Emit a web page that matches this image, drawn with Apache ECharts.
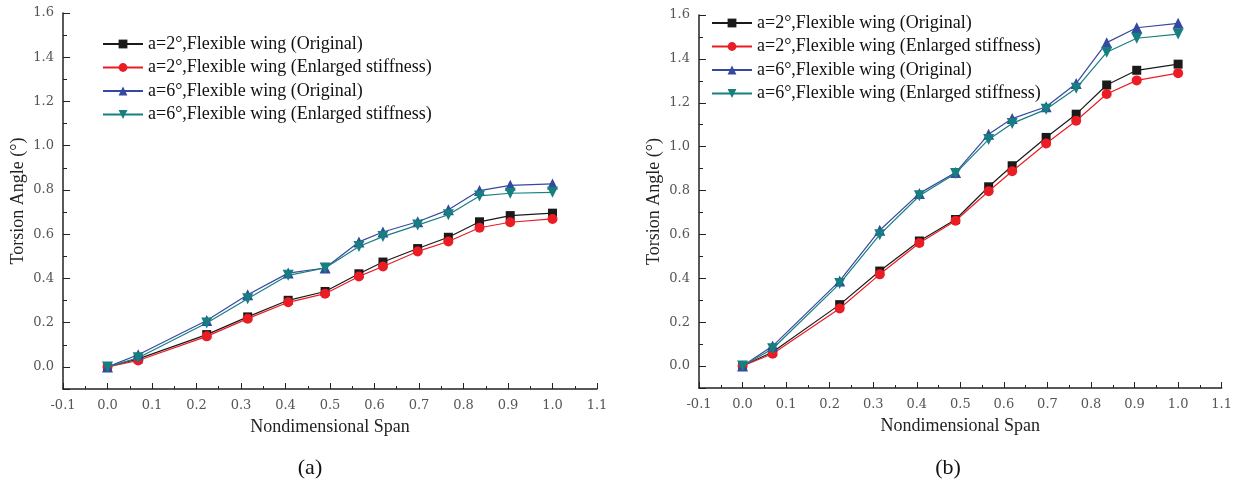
<!DOCTYPE html>
<html>
<head>
<meta charset="utf-8">
<title>Torsion Angle</title>
<script src="https://cdn.jsdelivr.net/npm/echarts@6/dist/echarts.min.js"></script>
<style>
	html,body{margin:0;padding:0;background:#fff;}
	#main{width:1235px;height:483px;}
</style>
</head>
<body>
<div id="main"></div>
<script>
// span positions (same for both plots)
var span = [0, 0.069, 0.223, 0.315, 0.406, 0.489, 0.565, 0.619, 0.697, 0.766, 0.836, 0.905, 1.0];

var names = [
	'a=2°,Flexible wing (Original)',
	'a=2°,Flexible wing (Enlarged stiffness)',
	'a=6°,Flexible wing (Original)',
	'a=6°,Flexible wing (Enlarged stiffness)'
];

// (a)
var a2Orig = [0, 0.036, 0.146, 0.226, 0.301, 0.341, 0.421, 0.474, 0.535, 0.586, 0.656, 0.684, 0.695];
var a2Stiff = [0, 0.029, 0.138, 0.218, 0.292, 0.331, 0.409, 0.454, 0.522, 0.567, 0.629, 0.654, 0.669];
var a6Orig = [0, 0.055, 0.21, 0.326, 0.424, 0.447, 0.565, 0.61, 0.656, 0.71, 0.797, 0.821, 0.827];
var a6Stiff = [0, 0.041, 0.198, 0.308, 0.414, 0.447, 0.544, 0.589, 0.641, 0.688, 0.773, 0.785, 0.789];

// (b)
var b2Orig = [0, 0.064, 0.28, 0.433, 0.57, 0.668, 0.817, 0.913, 1.042, 1.148, 1.281, 1.348, 1.376];
var b2Stiff = [0, 0.056, 0.262, 0.418, 0.561, 0.662, 0.797, 0.888, 1.014, 1.118, 1.24, 1.302, 1.335];
var b6Orig = [0, 0.091, 0.388, 0.619, 0.787, 0.882, 1.056, 1.128, 1.182, 1.288, 1.474, 1.542, 1.562];
var b6Stiff = [0, 0.079, 0.376, 0.599, 0.776, 0.878, 1.033, 1.106, 1.17, 1.266, 1.43, 1.494, 1.513];

var colors = ['#1a1a1a', '#ec1c24', '#3549a0', '#167f80'];
var symbols = ['rect', 'circle', 'triangle', 'path://M0,0 L10,0 L5,9 Z'];
var symbolSizes = [9, 10, 11, 11];

var serif = '"Liberation Serif", "Times New Roman", serif';
var tickFont = '"DejaVu Serif", serif';

var chart = {
	init:function(){
		this.myChart = echarts.init(document.getElementById('main'));
		this.render();
	},
	pairs:function(ys){
		var out = [];
		for(var i = 0; i < span.length; i++){
			out.push([span[i], ys[i]]);
		}
		return out;
	},
	xAxis:function(idx){
		return {
			type:'value', gridIndex:idx, min:-0.1, max:1.1, interval:0.1,
			name:'Nondimensional Span', nameLocation:'middle', nameGap:29,
			nameTextStyle:{fontFamily:serif, fontSize:18, color:'#222'},
			axisLine:{onZero:false, lineStyle:{color:'#222', width:1.5}},
			axisTick:{inside:true, length:6, lineStyle:{color:'#222'}},
			minorTick:{show:true, splitNumber:2, length:3, lineStyle:{color:'#222'}},
			splitLine:{show:false},
			axisLabel:{margin:10, fontFamily:tickFont, fontSize:13, color:'#555',
				formatter:function(v){ return v.toFixed(1); }}
		};
	},
	yAxis:function(idx){
		return {
			type:'value', gridIndex:idx, min:-0.1, max:1.6, splitNumber:8,
			name:'Torsion Angle (°)', nameLocation:'middle', nameGap:36,
			nameTextStyle:{fontFamily:serif, fontSize:18, color:'#222'},
			axisLine:{show:true, onZero:false, lineStyle:{color:'#222', width:1.5}},
			axisTick:{inside:true, length:7, lineStyle:{color:'#222'}},
			minorTick:{show:true, splitNumber:2, length:4, lineStyle:{color:'#222'}},
			splitLine:{show:false},
			axisLabel:{margin:9, showMinLabel:false, fontFamily:tickFont, fontSize:13, color:'#555',
				formatter:function(v){ return v.toFixed(1); }}
		};
	},
	render:function(){
		var groups = [[a2Orig, a2Stiff, a6Orig, a6Stiff], [b2Orig, b2Stiff, b6Orig, b6Stiff]];
		var series = [];
		for(var g = 0; g < 2; g++){
			for(var s = 0; s < 4; s++){
				series.push({
					type:'line', name:names[s], xAxisIndex:g, yAxisIndex:g,
					data:this.pairs(groups[g][s]),
					symbol:symbols[s], symbolSize:symbolSizes[s],
					showAllSymbol:true,
					lineStyle:{color:colors[s], width:1.2},
					itemStyle:{color:colors[s]},
					z:2 + s
				});
			}
		}

		var legendBase = {
			orient:'vertical', data:names, itemWidth:40, itemHeight:11, itemGap:5.5,
			textStyle:{fontFamily:serif, fontSize:18, color:'#111', lineHeight:18}
		};

		var option = {
			animation:false,
			backgroundColor:'#fff',
			title:[
				{text:'(a)', left:305, top:452, textAlign:'center', textStyle:{fontFamily:serif, fontSize:22, fontWeight:'normal', color:'#111'}},
				{text:'(b)', left:943, top:452, textAlign:'center', textStyle:{fontFamily:serif, fontSize:22, fontWeight:'normal', color:'#111'}}
			],
			legend:[
				echarts.util.merge({left:97, top:30}, legendBase, true),
				echarts.util.merge({left:706, top:9}, legendBase, true)
			],
			grid:[
				{left:63, top:13, width:534, height:376},
				{left:699, top:15, width:527, height:373}
			],
			xAxis:[this.xAxis(0), this.xAxis(1)],
			yAxis:[this.yAxis(0), this.yAxis(1)],
			series:series
		};
		this.myChart.setOption(option);
	}
};

chart.init();
</script>
</body>
</html>
